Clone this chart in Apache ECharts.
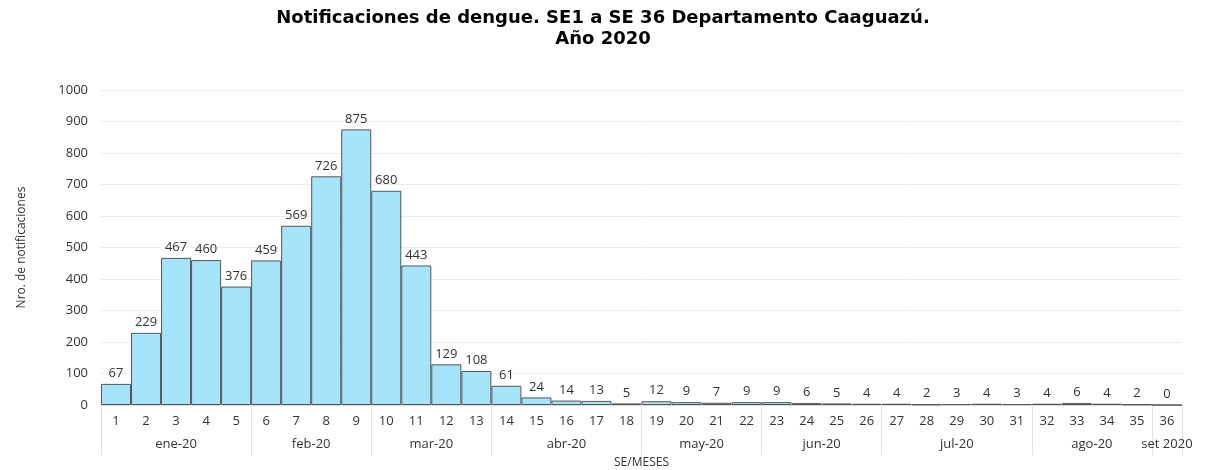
<!DOCTYPE html>
<html>
<head>
<meta charset="utf-8">
<script src="https://cdn.jsdelivr.net/npm/echarts@6/dist/echarts.min.js"></script>
<style>
  html, body { margin: 0; padding: 0; background: #fff; }
  #chart { width: 1206px; height: 470px; }
</style>
</head>
<body>
<div id="chart"></div>
<script>
const weeks = ["1","2","3","4","5","6","7","8","9","10","11","12","13","14","15","16","17","18",
  "19","20","21","22","23","24","25","26","27","28","29","30","31","32","33","34","35","36"];
const cases = [67, 229, 467, 460, 376, 459, 569, 726, 875, 680, 443, 129, 108, 61, 24, 14, 13, 5,
  12, 9, 7, 9, 9, 6, 5, 4, 4, 2, 3, 4, 3, 4, 6, 4, 2, 0];
const months = ["ene-20", "feb-20", "mar-20", "abr-20", "may-20", "jun-20", "jul-20", "ago-20", "set 2020"];
const monthWeeks = [5, 4, 4, 5, 4, 4, 5, 4, 1];

// month boundaries and centres on a 0..36 scale
let bounds = [0];
let centres = [];
monthWeeks.forEach((n) => {
  let start = bounds[bounds.length - 1];
  centres.push(start + n / 2);
  bounds.push(start + n);
});

let myChart = echarts.init(document.getElementById("chart"));
let option = {
  animation: false,
  textStyle: { fontFamily: "Open Sans" },
  title: {
    text: "Notificaciones de dengue. SE1 a SE 36 Departamento Caaguazú.\nAño 2020",
    left: "center",
    top: 3,
    textStyle: { fontSize: 18, fontWeight: "bold", color: "#000", lineHeight: 21, fontFamily: "DejaVu Sans" },
  },
  grid: { left: 101, right: 24, top: 90, bottom: 65, outerBoundsMode: "none" },
  xAxis: [
    {
      type: "category",
      data: weeks,
      name: "SE/MESES",
      nameLocation: "middle",
      nameGap: 52,
      nameTextStyle: { fontSize: 12, color: "#333" },
      axisLine: { lineStyle: { color: "#d9d9d9" } },
      axisTick: { show: false },
      axisLabel: { fontSize: 13, color: "#333", margin: 10 },
    },
    {
      type: "value",
      position: "bottom",
      min: 0,
      max: 36,
      splitLine: { show: false },
      axisLine: { show: false },
      axisTick: {
        show: true,
        length: 50,
        customValues: bounds,
        lineStyle: { color: "#e3e3e3" },
      },
      axisLabel: {
        customValues: centres,
        fontSize: 13,
        color: "#333",
        margin: 33,
        formatter: function (value) {
          let i = centres.indexOf(value);
          return i >= 0 ? months[i] : "";
        },
      },
    },
  ],
  yAxis: {
    type: "value",
    min: 0,
    max: 1000,
    interval: 100,
    name: "Nro. de notificaciones",
    nameLocation: "middle",
    nameGap: 73,
    nameTextStyle: { fontSize: 12, color: "#333" },
    axisLine: { show: false },
    axisTick: { show: false },
    axisLabel: { fontSize: 13, color: "#333", margin: 13, formatter: (v) => String(v) },
    splitLine: { lineStyle: { color: "#ececec" } },
  },
  series: [
    {
      type: "bar",
      xAxisIndex: 0,
      data: cases,
      barCategoryGap: "0%",
      itemStyle: { color: "#a6e4fb", borderColor: "#555", borderWidth: 1 },
      label: { show: true, position: "top", fontSize: 13, color: "#333", distance: 4 },
    },
  ],
};
myChart.setOption(option);
</script>
</body>
</html>
